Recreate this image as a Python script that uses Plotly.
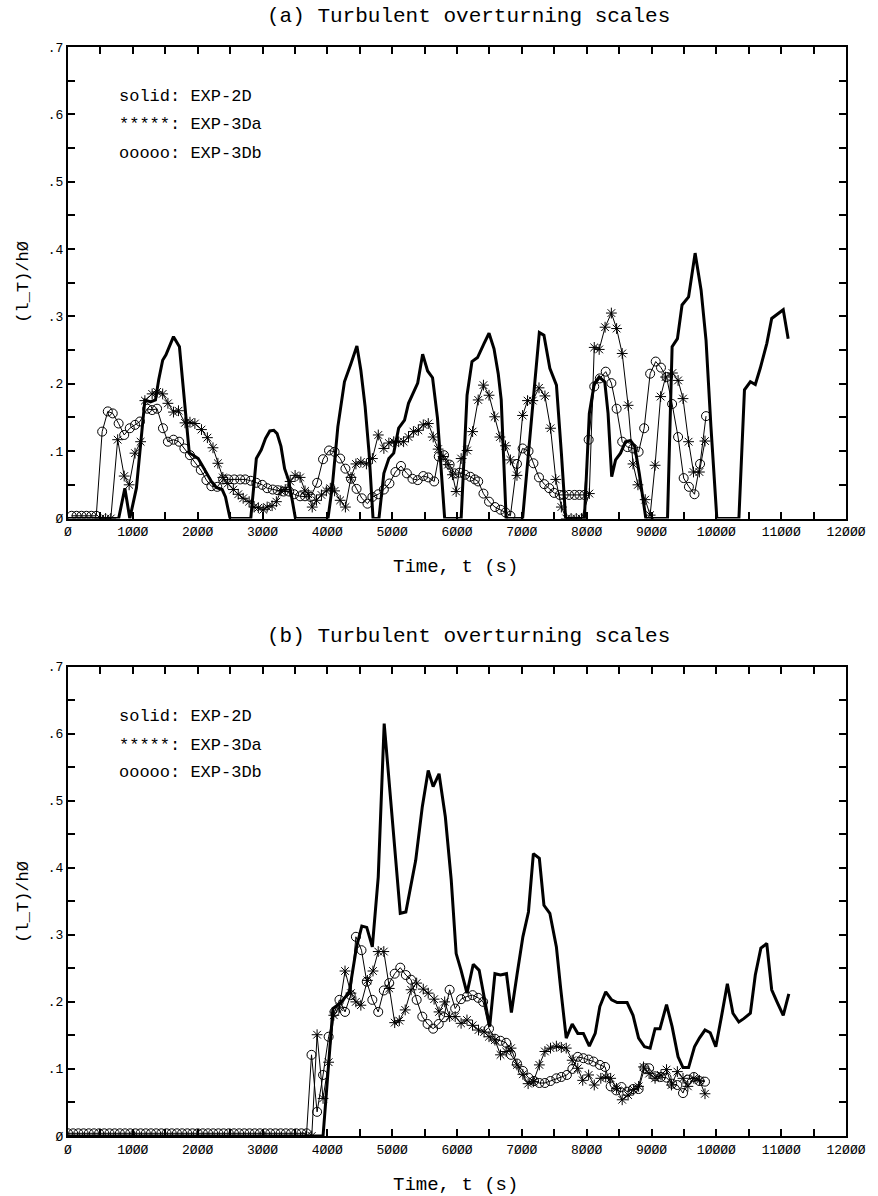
import plotly.graph_objects as go

# ---------------- DATA ----------------
# Panel (a)
t_2d_a = [0, 781, 877, 953, 1055, 1120, 1186, 1273, 1349, 1399, 1460, 1511, 1627, 1719, 1764, 1820, 1871, 1932,
          2008, 2069, 2135, 2211, 2287, 2378, 2429, 2500, 2819, 2905, 2981, 3047, 3113, 3174, 3225, 3285, 3341,
          3402, 3453, 3508, 4010, 4076, 4162, 4264, 4365, 4456, 4517, 4583, 4644, 4705, 4796, 4872, 4949, 5024,
          5100, 5191, 5252, 5328, 5394, 5470, 5547, 5623, 5699, 5760, 5810, 6064, 6155, 6231, 6317, 6418, 6494,
          6571, 6636, 6682, 6723, 6758, 7012, 7078, 7138, 7204, 7270, 7341, 7432, 7534, 7610, 7676, 7965, 8041,
          8117, 8193, 8279, 8330, 8386, 8446, 8522, 8599, 8675, 8741, 8811, 8877, 8913, 9247, 9318, 9400, 9471,
          9572, 9673, 9765, 9841, 9917, 10008, 10348, 10434, 10525, 10601, 10677, 10779, 10854, 11032, 11108]
v_2d_a = [0, 0, 0.045, 0, 0.045, 0.107, 0.176, 0.173, 0.176, 0.206, 0.235, 0.243, 0.270, 0.255, 0.206, 0.151, 0.097, 0.094,
          0.089, 0.079, 0.067, 0.055, 0.046, 0.043, 0.032, 0, 0, 0.089, 0.102, 0.119, 0.130, 0.131, 0.126, 0.107, 0.074,
          0.057, 0.030, 0, 0, 0.047, 0.136, 0.203, 0.230, 0.256, 0.220, 0.166, 0.097, 0, 0, 0.067, 0.089, 0.097,
          0.134, 0.146, 0.171, 0.186, 0.201, 0.244, 0.219, 0.209, 0.149, 0.067, 0, 0, 0.183, 0.233, 0.239, 0.260, 0.275,
          0.252, 0.215, 0.176, 0.072, 0, 0, 0.067, 0.136, 0.206, 0.276, 0.272, 0.223, 0.198, 0.097, 0, 0, 0.156,
          0.200, 0.210, 0.203, 0.156, 0.062, 0.087, 0.097, 0.114, 0.116, 0.107, 0.067, 0.027, 0, 0, 0.255, 0.267, 0.317,
          0.329, 0.394, 0.339, 0.265, 0.136, 0, 0, 0.191, 0.203, 0.199, 0.223, 0.260, 0.297, 0.310, 0.267]

t_3da_a = [500, 580, 660, 766, 867, 943, 1034, 1120, 1186, 1298, 1374, 1460, 1541, 1627, 1704, 1805, 1881, 1957, 2059,
           2150, 2236, 2312, 2388, 2464, 2550, 2626, 2702, 2794, 2870, 2936, 3012, 3072, 3148, 3214, 3285, 3351, 3427,
           3503, 3580, 3656, 3706, 3767, 3833, 3909, 3985, 4046, 4112, 4198, 4279, 4365, 4441, 4517, 4603, 4695, 4786,
           4872, 4949, 5024, 5100, 5176, 5252, 5328, 5404, 5480, 5557, 5633, 5709, 5785, 5861, 5930, 5987, 6064, 6155,
           6241, 6327, 6408, 6494, 6581, 6662, 6748, 6824, 6925, 7012, 7088, 7169, 7265, 7356, 7443, 7524, 7610, 7686,
           7760, 7840, 7920, 8041, 8117, 8193, 8284, 8381, 8462, 8548, 8639, 8715, 8791, 8903, 8979, 9055, 9141, 9217,
           9323, 9410, 9486, 9572, 9648, 9739, 9825]
v_3da_a = [0, 0, 0, 0.117, 0.063, 0.050, 0.097, 0.114, 0.175, 0.185, 0.188, 0.185, 0.171, 0.158, 0.160, 0.142, 0.143, 0.141, 0.132,
           0.120, 0.105, 0.082, 0.061, 0.052, 0.043, 0.036, 0.030, 0.025, 0.017, 0.016, 0.013, 0.017, 0.019, 0.025, 0.041, 0.043, 0.055,
           0.064, 0.061, 0.041, 0.036, 0.017, 0.027, 0.035, 0.041, 0.045, 0.041, 0.027, 0.017, 0.061, 0.081, 0.084, 0.081, 0.089, 0.124,
           0.104, 0.112, 0.114, 0.114, 0.114, 0.121, 0.129, 0.131, 0.139, 0.141, 0.121, 0.103, 0.092, 0.080, 0.065, 0.040, 0.089, 0.101,
           0.129, 0.176, 0.198, 0.183, 0.151, 0.121, 0.108, 0.087, 0.064, 0.153, 0.175, 0.175, 0.194, 0.182, 0.134, 0.058, 0.017, 0,
           0, 0, 0, 0.037, 0.254, 0.251, 0.284, 0.305, 0.282, 0.245, 0.168, 0.081, 0.050, 0.028, 0.005, 0.079, 0.181, 0.210,
           0.216, 0.205, 0.178, 0.114, 0.069, 0.069, 0.115]

t_3db_a = [56, 132, 208, 284, 360, 436, 527, 614, 690, 781, 867, 953, 1034, 1110, 1222, 1298, 1374, 1465, 1541, 1627, 1714,
           1795, 1881, 1967, 2048, 2135, 2211, 2302, 2393, 2474, 2565, 2657, 2733, 2819, 2905, 2996, 3072, 3158, 3234, 3326,
           3412, 3488, 3580, 3656, 3742, 3843, 3934, 4026, 4112, 4198, 4279, 4365, 4451, 4532, 4619, 4695, 4786, 4872, 4958,
           5050, 5136, 5227, 5313, 5394, 5480, 5557, 5648, 5719, 5800, 5886, 5962, 6038, 6124, 6205, 6276, 6327, 6408, 6494,
           6586, 6672, 6748, 6824, 6925, 7012, 7103, 7179, 7265, 7346, 7422, 7498, 7585, 7645, 7727, 7813, 7889, 7965, 8031,
           8117, 8203, 8294, 8381, 8462, 8548, 8629, 8715, 8801, 8887, 8979, 9065, 9146, 9232, 9318, 9410, 9496, 9577, 9663,
           9749, 9841]
v_3db_a = [0.004, 0.004, 0.004, 0.004, 0.004, 0.004, 0.129, 0.159, 0.156, 0.141, 0.124, 0.134, 0.139, 0.144, 0.163, 0.161, 0.163, 0.134, 0.114, 0.117, 0.114,
           0.104, 0.094, 0.083, 0.072, 0.057, 0.048, 0.047, 0.058, 0.058, 0.058, 0.058, 0.058, 0.056, 0.053, 0.050, 0.045, 0.043, 0.042, 0.040,
           0.040, 0.036, 0.033, 0.033, 0.032, 0.053, 0.088, 0.101, 0.099, 0.089, 0.074, 0.059, 0.044, 0.030, 0.022, 0.032, 0.036, 0.043, 0.052,
           0.069, 0.078, 0.067, 0.059, 0.057, 0.063, 0.061, 0.055, 0.092, 0.094, 0.080, 0.067, 0.068, 0.065, 0.062, 0.058, 0.055, 0.037, 0.025,
           0.017, 0.013, 0.009, 0.004, 0.081, 0.104, 0.100, 0.082, 0.061, 0.051, 0.045, 0.038, 0.035, 0.035, 0.035, 0.035, 0.035, 0.035, 0.117,
           0.196, 0.208, 0.218, 0.201, 0.163, 0.114, 0.106, 0.104, 0.099, 0.134, 0.215, 0.233, 0.224, 0.210, 0.170, 0.121, 0.060, 0.047, 0.036,
           0.081, 0.152]

# Panel (b)
t_2d_b = [0, 3934, 4086, 4213, 4339, 4451, 4532, 4608, 4694, 4785, 4877, 4998, 5125, 5211, 5363, 5465, 5556, 5632, 5723,
          5820, 5911, 5987, 6063, 6154, 6251, 6342, 6418, 6504, 6585, 6671, 6763, 6839, 6925, 7016, 7102, 7178, 7270,
          7341, 7432, 7533, 7599, 7685, 7777, 7863, 7949, 8041, 8132, 8203, 8294, 8385, 8471, 8624, 8715, 8801, 8892,
          8979, 9055, 9131, 9232, 9318, 9410, 9486, 9572, 9663, 9739, 9825, 9906, 9992, 10079, 10170, 10256, 10347,
          10423, 10525, 10601, 10687, 10778, 10854, 10941, 11032, 11118]
v_2d_b = [0, 0, 0.190, 0.199, 0.215, 0.282, 0.313, 0.311, 0.282, 0.386, 0.615, 0.476, 0.332, 0.334, 0.411, 0.491, 0.545, 0.521, 0.540,
          0.476, 0.382, 0.272, 0.247, 0.213, 0.256, 0.247, 0.208, 0.163, 0.242, 0.240, 0.242, 0.184, 0.240, 0.297, 0.334, 0.421, 0.414,
          0.344, 0.332, 0.282, 0.220, 0.146, 0.167, 0.153, 0.153, 0.134, 0.153, 0.193, 0.215, 0.203, 0.199, 0.199, 0.180, 0.146, 0.133,
          0.131, 0.160, 0.160, 0.196, 0.163, 0.118, 0.102, 0.102, 0.133, 0.146, 0.158, 0.154, 0.133, 0.178, 0.227, 0.183, 0.170,
          0.175, 0.183, 0.240, 0.280, 0.287, 0.218, 0.199, 0.180, 0.212]

t_3da_b = [3680, 3760, 3842, 3934, 4020, 4100, 4187, 4273, 4364, 4440, 4517, 4618, 4704, 4785, 4871, 4955, 5039, 5110, 5201,
           5292, 5378, 5480, 5556, 5647, 5723, 5810, 5886, 5972, 6063, 6154, 6240, 6332, 6418, 6494, 6585, 6671, 6758,
           6834, 6925, 7016, 7097, 7178, 7270, 7356, 7442, 7533, 7609, 7685, 7777, 7863, 7939, 8030, 8117, 8218, 8294,
           8370, 8461, 8548, 8639, 8725, 8801, 8877, 8963, 9055, 9146, 9232, 9308, 9399, 9486, 9561, 9653, 9739, 9825]
v_3da_b = [0, 0, 0.151, 0.056, 0.110, 0.180, 0.192, 0.246, 0.213, 0.200, 0.195, 0.232, 0.246, 0.275, 0.275, 0.220, 0.169, 0.172, 0.188,
           0.218, 0.228, 0.219, 0.213, 0.204, 0.185, 0.200, 0.178, 0.178, 0.168, 0.173, 0.165, 0.158, 0.155, 0.148, 0.143, 0.121, 0.126,
           0.131, 0.106, 0.092, 0.078, 0.081, 0.106, 0.126, 0.131, 0.134, 0.132, 0.131, 0.113, 0.101, 0.083, 0.091, 0.076, 0.086, 0.088,
           0.086, 0.071, 0.054, 0.061, 0.069, 0.074, 0.103, 0.093, 0.086, 0.091, 0.099, 0.076, 0.096, 0.086, 0.074, 0.086, 0.083, 0.063]

t_3db_b = [0, 80, 160, 240, 320, 400, 480, 560, 640, 720, 800, 880, 960, 1040, 1120, 1200, 1280, 1360, 1440, 1520, 1600,
           1680, 1760, 1840, 1920, 2000, 2080, 2160, 2240, 2320, 2400, 2480, 2560, 2640, 2720, 2800, 2880, 2960, 3040,
           3120, 3200, 3280, 3360, 3440, 3520, 3600, 3680, 3756, 3842, 3934, 4020, 4111, 4187, 4273, 4360, 4441, 4527,
           4608, 4694, 4785, 4871, 4955, 5039, 5125, 5211, 5292, 5378, 5465, 5546, 5632, 5718, 5799, 5886, 5972, 6063,
           6154, 6240, 6327, 6403, 6494, 6585, 6671, 6758, 6834, 6925, 7016, 7102, 7188, 7270, 7356, 7442, 7533, 7609,
           7695, 7780, 7863, 7949, 8030, 8106, 8203, 8284, 8370, 8456, 8537, 8624, 8715, 8801, 8892, 8963, 9055, 9146,
           9232, 9318, 9399, 9486, 9561, 9653, 9739, 9825]
v_3db_b = [0.004, 0.004, 0.004, 0.004, 0.004, 0.004, 0.004, 0.004, 0.004, 0.004, 0.004, 0.004, 0.004, 0.004, 0.004, 0.004,
           0.004, 0.004, 0.004, 0.004, 0.004, 0.004, 0.004, 0.004, 0.004, 0.004, 0.004, 0.004, 0.004, 0.004, 0.004, 0.004,
           0.004, 0.004, 0.004, 0.004, 0.004, 0.004, 0.004, 0.004, 0.004, 0.004, 0.004, 0.004, 0.004, 0.004, 0.004,
           0.121, 0.036, 0.091, 0.148, 0.185, 0.203, 0.185, 0.210, 0.297, 0.277,
           0.230, 0.203, 0.185, 0.217, 0.228, 0.242, 0.251, 0.240, 0.233, 0.203, 0.178, 0.167, 0.160, 0.167, 0.177, 0.218, 0.190, 0.204,
           0.208, 0.210, 0.206, 0.200, 0.160, 0.145, 0.142, 0.139, 0.121, 0.108, 0.097, 0.087, 0.082, 0.079, 0.079, 0.082, 0.086, 0.088,
           0.091, 0.100, 0.118, 0.116, 0.114, 0.111, 0.106, 0.103, 0.074, 0.068, 0.073, 0.066, 0.070, 0.070, 0.101, 0.101, 0.089, 0.088,
           0.087, 0.078, 0.076, 0.064, 0.084, 0.088, 0.082, 0.081]

x_tick_vals = [0, 1000, 2000, 3000, 4000, 5000, 6000, 7000, 8000, 9000, 10000, 11000, 12000]
x_tick_text = ["Ø", "1ØØØ", "2ØØØ", "3ØØØ", "4ØØØ", "5ØØØ", "6ØØØ", "7ØØØ", "8ØØØ", "9ØØØ", "1ØØØØ", "11ØØØ", "12ØØØ"]
y_tick_vals = [0, 0.1, 0.2, 0.3, 0.4, 0.5, 0.6, 0.7]
y_tick_text = ["Ø", ".1", ".2", ".3", ".4", ".5", ".6", ".7"]

titles = ["(a) Turbulent overturning scales", "(b) Turbulent overturning scales"]
x_title = "Time, t (s)"
y_title = "(l_T)/hØ"
legend_lines = ["solid: EXP-2D", "*****: EXP-3Da", "ooooo: EXP-3Db"]

# ---------------- FIGURE ----------------
FONT = "Liberation Mono"
W, H = 878, 1196
ML, MR, MT, MB = 68, 21, 47, 60
PH = H - MT - MB
PW = W - ML - MR

def py(pix):  # pixel y (from top) -> paper y
    return (H - MB - pix) / PH

def px(pix):
    return (pix - ML) / PW

fig = go.Figure()

panels = [
    ("x", "y", t_2d_a, v_2d_a, t_3da_a, v_3da_a, t_3db_a, v_3db_a),
    ("x2", "y2", t_2d_b, v_2d_b, t_3da_b, v_3da_b, t_3db_b, v_3db_b),
]
for xa, ya, t2, v2, ta, va, tb, vb in panels:
    fig.add_trace(go.Scatter(x=tb, y=vb, xaxis=xa, yaxis=ya, mode="lines+markers",
                             line=dict(color="black", width=1),
                             marker=dict(symbol="circle-open", size=9, color="black", line=dict(width=1)),
                             showlegend=False))
    fig.add_trace(go.Scatter(x=ta, y=va, xaxis=xa, yaxis=ya, mode="lines+markers",
                             line=dict(color="black", width=1),
                             marker=dict(symbol="asterisk-open", size=9, color="black", line=dict(width=1)),
                             showlegend=False))
    fig.add_trace(go.Scatter(x=t2, y=v2, xaxis=xa, yaxis=ya, mode="lines",
                             line=dict(color="black", width=3),
                             showlegend=False))

top_a, bot_a = 47, 518.5
top_b, bot_b = 666.5, 1136

axis_common = dict(showgrid=False, zeroline=False, showline=True, linecolor="black", linewidth=2,
                   mirror="ticks", ticks="inside", ticklen=7, tickwidth=2, tickcolor="black",
                   tickfont=dict(family=FONT, size=13, color="black"))

xax = dict(axis_common, range=[0, 12000], tickmode="array", tickvals=x_tick_vals, ticktext=x_tick_text,
           minor=dict(dtick=500, tick0=0, ticks="inside", ticklen=7, tickwidth=2, tickcolor="black"))
yax = dict(axis_common, range=[0, 0.7], tickmode="array", tickvals=y_tick_vals, ticktext=y_tick_text,
           minor=dict(dtick=0.05, tick0=0, ticks="inside", ticklen=7, tickwidth=2, tickcolor="black"))

fig.update_layout(
    width=W, height=H, margin=dict(l=ML, r=MR, t=MT, b=MB),
    paper_bgcolor="white", plot_bgcolor="white",
    xaxis=dict(xax, domain=[0, 1], anchor="y"),
    yaxis=dict(yax, domain=[py(bot_a), py(top_a)], anchor="x"),
    xaxis2=dict(xax, domain=[0, 1], anchor="y2"),
    yaxis2=dict(yax, domain=[py(bot_b), py(top_b)], anchor="x2"),
    font=dict(family=FONT, color="black"),
)

ann = []
for i, (ttl_y, time_y, ylab_y, leg_ys) in enumerate([
        (17, 567, 282, [97, 125, 153]),
        (636, 1185, 902, [717, 745, 772])]):
    ann.append(dict(text=titles[i], x=px(474), y=py(ttl_y), xref="paper", yref="paper",
                    showarrow=False, xanchor="center", yanchor="middle",
                    font=dict(family=FONT, size=21, color="black")))
    ann.append(dict(text=x_title, x=px(461), y=py(time_y), xref="paper", yref="paper",
                    showarrow=False, xanchor="center", yanchor="middle",
                    font=dict(family=FONT, size=19, color="black")))
    ann.append(dict(text=y_title, x=px(22), y=py(ylab_y), xref="paper", yref="paper",
                    showarrow=False, xanchor="center", yanchor="middle", textangle=-90,
                    font=dict(family=FONT, size=17, color="black")))
    for line, ly in zip(legend_lines, leg_ys):
        ann.append(dict(text=line, x=px(118), y=py(ly), xref="paper", yref="paper",
                        showarrow=False, xanchor="left", yanchor="middle",
                        font=dict(family=FONT, size=17, color="black")))
fig.update_layout(annotations=ann)

fig.write_html("out.html")
